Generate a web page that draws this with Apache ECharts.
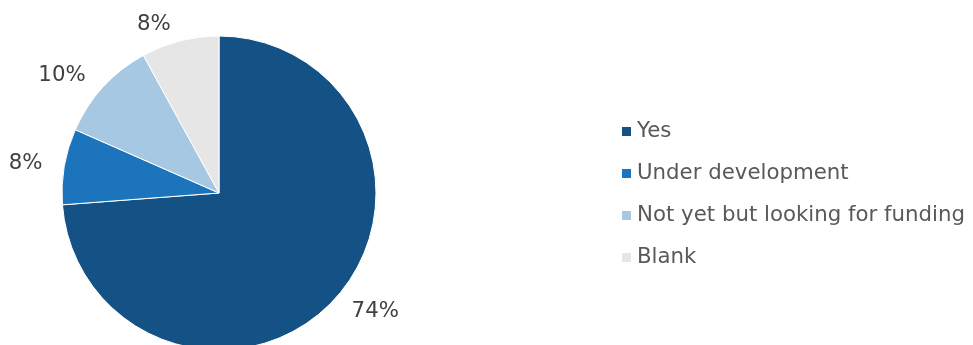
<!DOCTYPE html>
<html>
<head>
<meta charset="utf-8">
<script src="https://cdn.jsdelivr.net/npm/echarts@6/dist/echarts.min.js"></script>
<style>
html,body{margin:0;padding:0;background:#fff;}
#c{width:973px;height:345px;}
</style>
</head>
<body>
<div id="c"></div>
<script>
const categories = ["Yes", "Under development", "Not yet but looking for funding", "Blank"];
const values = [73.8, 7.8, 10.4, 8.0];
const colors = ["#145286", "#1c75bc", "#a6c8e3", "#e6e6e6"];

const chart = echarts.init(document.getElementById('c'));
chart.setOption({
  animation: false,
  color: colors,
  legend: {
    orient: 'vertical',
    left: 620,
    top: 121,
    padding: 0,
    itemWidth: 11,
    itemHeight: 11,
    itemGap: 21,
    icon: 'rect',
    textStyle: { fontFamily: 'DejaVu Sans', fontSize: 21.3, color: '#595959' },
    data: categories
  },
  series: [{
    type: 'pie',
    center: [219, 193],
    radius: 157,
    startAngle: 90,
    clockwise: true,
    itemStyle: { borderColor: '#fff', borderWidth: 1 },
    label: {
      show: true,
      position: 'outside',
      overflow: 'none',
      fontFamily: 'DejaVu Sans',
      fontSize: 21.3,
      color: '#404040',
      formatter: p => Math.round(p.value) + '%'
    },
    labelLine: { show: false, length: 17, length2: 0 },
    emphasis: { disabled: true },
    data: categories.map((c, i) => ({ name: c, value: values[i] }))
  }]
});
</script>
</body>
</html>
